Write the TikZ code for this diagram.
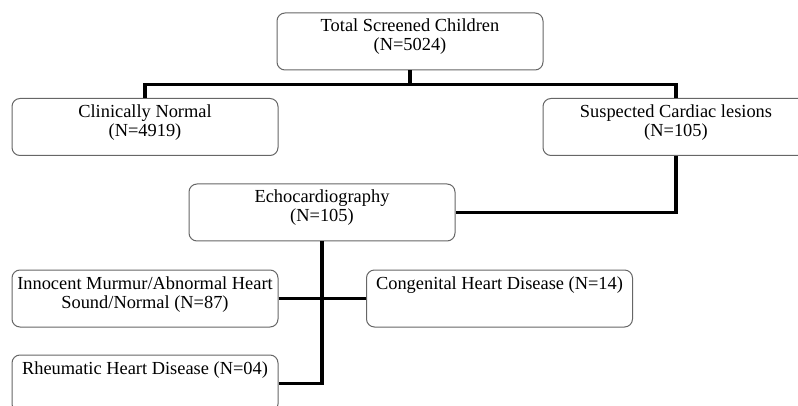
\documentclass[tikz,border=0pt]{standalone}
\usepackage{fontspec}
\setmainfont{Liberation Serif}
\usepackage{tikz}
\usepackage{xcolor}

\begin{document}
\begin{tikzpicture}[x=1pt, y=-1pt,
    box/.style={draw=black!60, line width=1pt, rounded corners=8pt, inner sep=0pt,
        minimum width=266pt, text height=19pt, text depth=38pt, align=center,
        font=\fontsize{18.4}{19}\selectfont},
    twoline/.style={box, text height=38pt, text depth=19pt},
    link/.style={line width=3.6pt}]
                \useasboundingbox (0,0) rectangle (798,406);
                \clip (0,0) rectangle (798,406);

                \node[twoline] (total) at (410,41.5) {Total Screened Children\\(N=5024)};
                \node[twoline] (normal) at (145,127) {Clinically Normal\\(N=4919)};
                \node[twoline] (suspect) at (676,127) {Suspected Cardiac lesions\\(N=105)};
                \node[twoline] (echo) at (322,212.5) {Echocardiography\\(N=105)};
                \node[twoline] (innocent) at (145,298.5) {Innocent Murmur/Abnormal Heart\\Sound/Normal (N=87)};
                \node[box] (congen) at (499.5,298.5) {Congenital Heart Disease (N=14)};
                \node[box] (rheum) at (145,383.5) {Rheumatic Heart Disease (N=04)};

                \draw[link] (total.south) -- ++(0,14) coordinate (split);
                \draw[link] (normal.north) |- (split) -| (suspect.north);
                \draw[link] (suspect.south) |- (echo.east);
                \draw[link] (echo.south) |- (rheum.east);
                \draw[link] (innocent.east) -- (congen.west);
            \end{tikzpicture}
\end{document}
